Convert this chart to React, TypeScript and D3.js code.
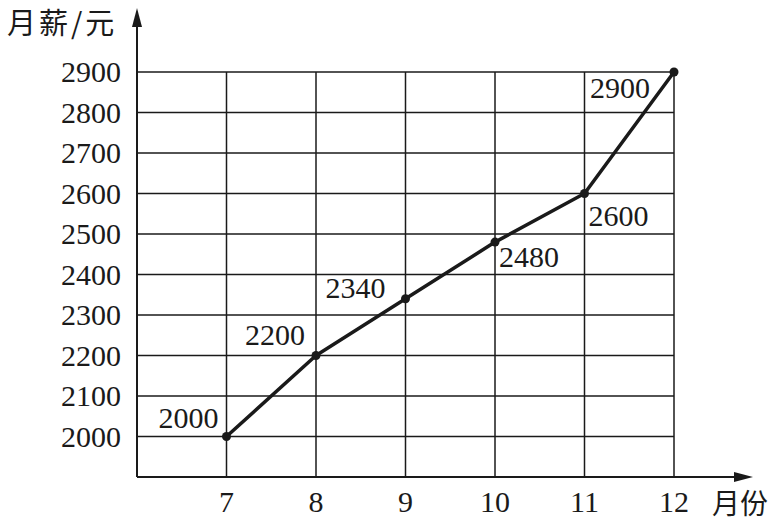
import React from "react";
import * as d3 from "d3";

const months = [7, 8, 9, 10, 11, 12];
const salary = [2000, 2200, 2340, 2480, 2600, 2900];
const yTicks = [2000, 2100, 2200, 2300, 2400, 2500, 2600, 2700, 2800, 2900];
const xLabel = "月份";
const yLabel = "月薪/元";

export default function App() {
  const W = 780, H = 525;
  const x = d3.scaleLinear().domain([6, 12]).range([137, 674]);
  const y = d3.scaleLinear().domain([1900, 2900]).range([477, 72]);
  const line = d3.line<number>().x((_, i) => x(months[i])).y((d) => y(d));
  const ink = "#1a1a1a";
  // label placement per point: [dx, dy, anchor]
  const place: [number, number, string][] = [
    [-8, -9, "end"],
    [-11, -11, "end"],
    [-20, -1, "end"],
    [4, 25, "start"],
    [4, 32, "start"],
    [-24, 26, "end"],
  ];
  const yTop = y(2900), yBot = y(1900), xL = x(6), xR = x(12);
  return (
    <svg width={W} height={H} style={{ position: "absolute", left: 0, top: 0, background: "#fff" }}>
      {yTicks.map((t) => (
        <line key={"h" + t} x1={xL} x2={xR} y1={y(t)} y2={y(t)} stroke={ink} strokeWidth={1.5} />
      ))}
      {months.map((m) => (
        <line key={"v" + m} x1={x(m)} x2={x(m)} y1={yTop} y2={yBot} stroke={ink} strokeWidth={1.5} />
      ))}
      <line x1={xL} x2={xL} y1={yBot} y2={22} stroke={ink} strokeWidth={2} />
      <path d={`M${xL},8 L${xL - 5},27 L${xL + 5},27 Z`} fill={ink} />
      <line x1={xL} x2={738} y1={yBot} y2={yBot} stroke={ink} strokeWidth={2} />
      <path d={`M753,${yBot} L734,${yBot - 5} L734,${yBot + 5} Z`} fill={ink} />
      <g fontFamily="Liberation Serif" fontSize={30} fill={ink}>
        {yTicks.map((t) => (
          <text key={"yl" + t} x={121} y={y(t) + 10} textAnchor="end">
            {String(t)}
          </text>
        ))}
        {months.map((m) => (
          <text key={"xl" + m} x={x(m)} y={512} textAnchor="middle">
            {String(m)}
          </text>
        ))}
        {salary.map((v, i) => (
          <text
            key={"dl" + i}
            x={x(months[i]) + place[i][0]}
            y={y(v) + place[i][1]}
            textAnchor={place[i][2] as any}
          >
            {String(v)}
          </text>
        ))}
      </g>
      <text x={712} y={514} fontFamily="Noto Sans CJK SC" fontSize={28} fill={ink}>{xLabel}</text>
      <text x={7} y={34} fontFamily="Noto Sans CJK SC" fontSize={29} letterSpacing={3} fill={ink}>{yLabel}</text>
      <path d={line(salary) || ""} fill="none" stroke={ink} strokeWidth={3.5} strokeLinejoin="round" />
      {salary.map((v, i) => (
        <circle key={"p" + i} cx={x(months[i])} cy={y(v)} r={4.5} fill={ink} />
      ))}
    </svg>
  );
}
